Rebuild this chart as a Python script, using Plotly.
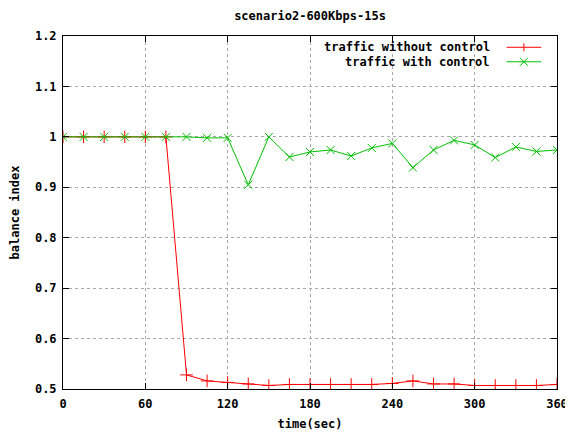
import plotly.graph_objects as go

time_sec = [0, 15, 30, 45, 60, 75, 90, 105, 120, 135, 150, 165, 180, 195, 210, 225,
            240, 255, 270, 285, 300, 315, 330, 345, 360]
without_control = [1.0, 1.0, 1.0, 1.0, 1.0, 1.0, 0.528, 0.516, 0.513, 0.510, 0.507, 0.509,
                   0.509, 0.509, 0.509, 0.509, 0.511, 0.516, 0.510, 0.510, 0.507, 0.507,
                   0.507, 0.507, 0.509]
with_control = [1.0, 1.0, 1.0, 1.0, 1.0, 1.0, 1.0, 0.998, 0.998, 0.905, 1.0, 0.960,
                0.970, 0.974, 0.962, 0.978, 0.987, 0.939, 0.974, 0.993, 0.984, 0.959,
                0.980, 0.971, 0.974]
series_names = ["traffic without control", "traffic with control"]
x_ticks = [0, 60, 120, 180, 240, 300, 360]
y_ticks = [0.5, 0.6, 0.7, 0.8, 0.9, 1.0, 1.1, 1.2]
y_tick_labels = ["0.5", "0.6", "0.7", "0.8", "0.9", "1", "1.1", "1.2"]

RED = "#ff0000"
GREEN = "#00c000"
FONT = "DejaVu Sans Mono"
FS = 12

fig = go.Figure()
fig.add_trace(go.Scatter(x=time_sec, y=without_control, mode="lines+markers",
                         name=series_names[0],
                         line=dict(color=RED, width=1),
                         marker=dict(symbol="cross-thin", size=9,
                                     line=dict(color=RED, width=1))))
fig.add_trace(go.Scatter(x=time_sec, y=with_control, mode="lines+markers",
                         name=series_names[1],
                         line=dict(color=GREEN, width=1),
                         marker=dict(symbol="x-thin", size=8,
                                     line=dict(color=GREEN, width=1))))

axis_common = dict(showline=True, linecolor="black", linewidth=1, mirror="ticks",
                   ticks="inside", ticklen=6, tickcolor="black", automargin=False,
                   showgrid=True, gridcolor="#a8a8a8", griddash="dot", gridwidth=1,
                   zeroline=False,
                   tickfont=dict(family=FONT, size=FS, color="black", weight="bold"))

# page body has an 8px margin, so the figure is 565x424 and offset accordingly
fig.update_layout(
    width=565, height=424,
    margin=dict(l=55, r=16, t=28, b=43),
    paper_bgcolor="white", plot_bgcolor="white",
    showlegend=False,
    title=dict(text="scenario2-600Kbps-15s", xref="paper", x=0.5, xanchor="center",
               y=1 - 8 / 424, yanchor="middle",
               font=dict(family=FONT, size=FS, color="black", weight="bold")),
    xaxis=dict(range=[0, 360], tickvals=x_ticks, ticklabelstandoff=4,
               title=dict(text="time(sec)", standoff=9,
                          font=dict(family=FONT, size=FS, color="black", weight="bold")),
               **axis_common),
    yaxis=dict(range=[0.5, 1.2], tickvals=y_ticks, ticktext=y_tick_labels,
               ticklabelstandoff=3,
               title=dict(text="balance index", standoff=16,
                          font=dict(family=FONT, size=FS, color="black", weight="bold")),
               **axis_common),
)

# Manual gnuplot-style key (text on the left, sample on the right)
key_rows = [(series_names[0], RED, 0.968, "plus"), (series_names[1], GREEN, 0.927, "x")]
for text, color, yp, sym in key_rows:
    fig.add_annotation(xref="paper", yref="paper", x=0.868, y=yp, text=text,
                       showarrow=False, xanchor="right", yanchor="middle",
                       font=dict(family=FONT, size=FS, color="black", weight="bold"))
    fig.add_shape(type="line", xref="paper", yref="paper", x0=0.898, x1=0.968,
                  y0=yp, y1=yp, line=dict(color=color, width=1))
    cx, dx, dy = 0.933, 4 / 494, 4 / 353
    if sym == "plus":
        fig.add_shape(type="line", xref="paper", yref="paper", x0=cx, x1=cx,
                      y0=yp - dy, y1=yp + dy, line=dict(color=color, width=1))
    else:
        fig.add_shape(type="line", xref="paper", yref="paper", x0=cx - dx, x1=cx + dx,
                      y0=yp - dy, y1=yp + dy, line=dict(color=color, width=1))
        fig.add_shape(type="line", xref="paper", yref="paper", x0=cx - dx, x1=cx + dx,
                      y0=yp + dy, y1=yp - dy, line=dict(color=color, width=1))

fig.write_html("out.html")
